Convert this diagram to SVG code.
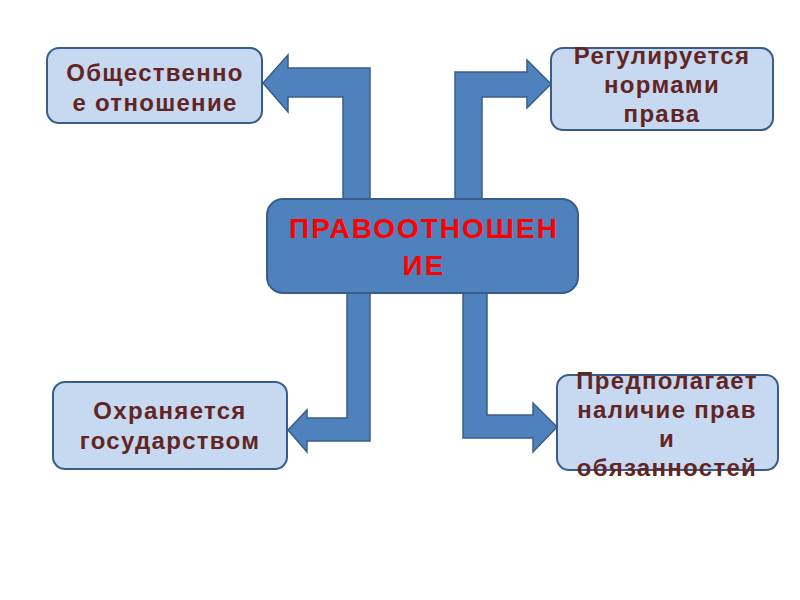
<svg xmlns="http://www.w3.org/2000/svg" width="800" height="600" viewBox="0 0 800 600">
<style>
.arrow{fill:#4f81bd;stroke:#385d8a;stroke-width:1.5;stroke-linejoin:miter}
.box{fill:#c6d9f1;stroke:#385d8a;stroke-width:2}
.main{fill:#4f81bd;stroke:#385d8a;stroke-width:2}
.t{font-family:"Liberation Sans",Arial,sans-serif;font-weight:bold;font-size:24px;fill:#632523;text-anchor:middle;letter-spacing:1.3px}
.tm{font-family:"Liberation Sans",Arial,sans-serif;font-weight:bold;font-size:28px;fill:#ff0000;text-anchor:middle;letter-spacing:2px}
</style>
<rect width="800" height="600" fill="#ffffff"/>
<g id="connectors">
<path class="arrow" d="M343,199 V97 H288 V112 L263,83 L288,55 V68 H370 V199 Z"/>
<path class="arrow" d="M455,199 V72 H527 V60 L551,84 L527,108 V97 H482 V199 Z"/>
<path class="arrow" d="M370,293 V441 H307 V452 L288,430 L307,410 V418 H347 V293 Z"/>
<path class="arrow" d="M463,293 V438 H533 V452 L557,427 L533,403 V415 H487 V293 Z"/>
</g>
<g id="n-center">
<rect class="main" x="267" y="199" width="311" height="94" rx="16"/>
<text class="tm" x="424" y="238">ПРАВООТНОШЕН</text>
<text class="tm" x="424" y="275">ИЕ</text>
</g>
<g id="n-tl">
<rect class="box" x="47" y="48" width="215" height="75" rx="12"/>
<text class="t" x="155" y="81">Общественно</text>
<text class="t" x="155" y="111">е отношение</text>
</g>
<g id="n-tr">
<rect class="box" x="551" y="48" width="222" height="82" rx="12"/>
<text class="t" x="662" y="64">Регулируется</text>
<text class="t" x="662" y="93">нормами</text>
<text class="t" x="662" y="122">права</text>
</g>
<g id="n-bl">
<rect class="box" x="53" y="382" width="234" height="87" rx="12"/>
<text class="t" x="170" y="419">Охраняется</text>
<text class="t" x="170" y="449">государством</text>
</g>
<g id="n-br">
<rect class="box" x="557" y="375" width="221" height="95" rx="12"/>
<text class="t" x="667" y="389">Предполагает</text>
<text class="t" x="667" y="418">наличие прав</text>
<text class="t" x="667" y="447">и</text>
<text class="t" x="667" y="476">обязанностей</text>
</g>
</svg>
